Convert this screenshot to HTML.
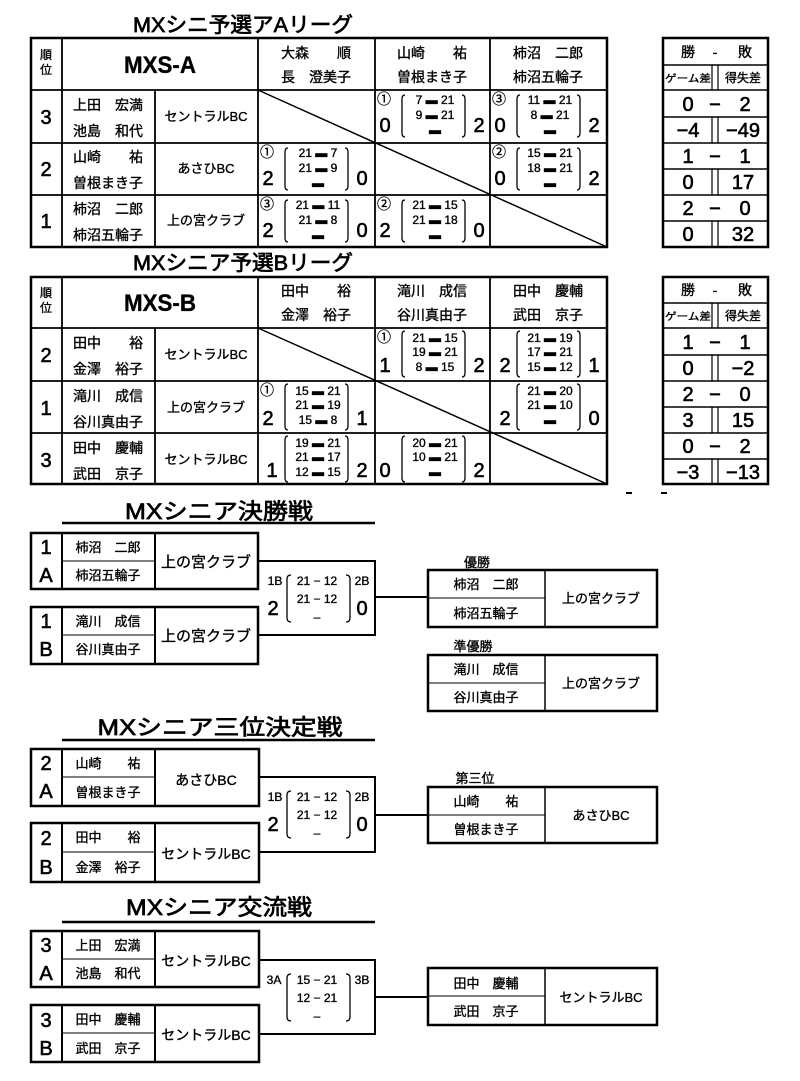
<!DOCTYPE html>
<html><head><meta charset="utf-8"><style>
html,body{margin:0;padding:0;background:#fff}
svg{display:block}
text{font-family:"Liberation Sans","Noto Sans CJK JP",sans-serif;fill:#000;stroke:#000;stroke-width:0.35}
.t{font-size:13px;text-anchor:middle}
.n{font-size:14px;text-anchor:middle}
.big{font-size:20px;text-anchor:middle;stroke-width:0.6}
.s{font-size:12px;text-anchor:middle}
.c{font-size:14px;text-anchor:middle}
.ti{stroke-width:0.7}
</style></head><body>
<svg width="800" height="1081" viewBox="0 0 800 1081" xmlns="http://www.w3.org/2000/svg">
<g fill="none" stroke="#000">
<rect x="31" y="38" width="576" height="209" stroke-width="2.5"/>
<path d="M31 90H607M31 143H607M31 195H607M62 38V247M258 38V247M375 38V247M490 38V247M155 90V247" stroke-width="1.8"/>
<path d="M258 90L607 247" stroke-width="1.5"/>
<rect x="663" y="38" width="105" height="209" stroke-width="2.5"/>
<path d="M663 65H768M663 90H768M663 117H768M663 143H768M663 169H768M663 195H768M663 221H768" stroke-width="1.5"/>
<path d="M712 65V90M718 65V90M712 117V143M718 117V143M712 169V195M718 169V195M712 221V247M718 221V247" stroke-width="1.2"/>
<rect x="31" y="277" width="576" height="207" stroke-width="2.5"/>
<path d="M31 328H607M31 381H607M31 433H607M62 277V484M258 277V484M375 277V484M490 277V484M155 328V484" stroke-width="1.8"/>
<path d="M258 328L607 484" stroke-width="1.5"/>
<rect x="663" y="277" width="105" height="207" stroke-width="2.5"/>
<path d="M663 303H768M663 328H768M663 355H768M663 381H768M663 407H768M663 433H768M663 459H768" stroke-width="1.5"/>
<path d="M712 303V328M718 303V328M712 355V381M718 355V381M712 407V433M718 407V433M712 459V484M718 459V484" stroke-width="1.2"/>
<path d="M626 493H632M661 493H667" stroke-width="2"/>
<path d="M62 523H375" stroke-width="2.5"/>
<rect x="31" y="533" width="227" height="56" stroke-width="2.5"/>
<path d="M62 533V589M155 533V589" stroke-width="2"/><path d="M62 561H155" stroke-width="1"/>
<rect x="31" y="607" width="227" height="57" stroke-width="2.5"/>
<path d="M62 607V664M155 607V664" stroke-width="2"/><path d="M62 635H155" stroke-width="1"/>
<path d="M258 561H375V635H258M375 597H428" stroke-width="2"/>
<rect x="428" y="570" width="229" height="57" stroke-width="2.5"/>
<path d="M545 570V627" stroke-width="1.5"/><path d="M428 598H545" stroke-width="1"/>
<rect x="428" y="655" width="229" height="56" stroke-width="2.5"/>
<path d="M545 655V711" stroke-width="1.5"/><path d="M428 683H545" stroke-width="1"/>
<path d="M62 740H375" stroke-width="2.5"/>
<rect x="31" y="749" width="228" height="57" stroke-width="2.5"/>
<path d="M62 749V806M155 749V806" stroke-width="2"/><path d="M62 777H155" stroke-width="1"/>
<rect x="31" y="823" width="228" height="59" stroke-width="2.5"/>
<path d="M62 823V882M155 823V882" stroke-width="2"/><path d="M62 852H155" stroke-width="1"/>
<path d="M259 777H375V852H259M375 815H428" stroke-width="2"/>
<rect x="428" y="787" width="229" height="56" stroke-width="2.5"/>
<path d="M545 787V843" stroke-width="1.5"/><path d="M428 815H545" stroke-width="1"/>
<path d="M62 922H375" stroke-width="2.5"/>
<rect x="31" y="931" width="228" height="56" stroke-width="2.5"/>
<path d="M62 931V987M155 931V987" stroke-width="2"/><path d="M62 959H155" stroke-width="1"/>
<rect x="31" y="1005" width="228" height="57" stroke-width="2.5"/>
<path d="M62 1005V1062M155 1005V1062" stroke-width="2"/><path d="M62 1033H155" stroke-width="1"/>
<path d="M259 960H375V1034H259M375 997H428" stroke-width="2"/>
<rect x="428" y="968" width="229" height="57" stroke-width="2.5"/>
<path d="M545 968V1025" stroke-width="1.5"/><path d="M428 996H545" stroke-width="1"/>
<g stroke-width="1.3">
<path d="M288 148q-3 0-3 4v34q0 4 3 4M345 148q3 0 3 4v34q0 4-3 4" transform="translate(117,-53)"/>
<path d="M288 148q-3 0-3 4v34q0 4 3 4M345 148q3 0 3 4v34q0 4-3 4" transform="translate(232,-53)"/>
<path d="M288 148q-3 0-3 4v34q0 4 3 4M345 148q3 0 3 4v34q0 4-3 4"/>
<path d="M288 148q-3 0-3 4v34q0 4 3 4M345 148q3 0 3 4v34q0 4-3 4" transform="translate(232,0)"/>
<path d="M288 148q-3 0-3 4v34q0 4 3 4M345 148q3 0 3 4v34q0 4-3 4" transform="translate(0,52)"/>
<path d="M288 148q-3 0-3 4v34q0 4 3 4M345 148q3 0 3 4v34q0 4-3 4" transform="translate(117,52)"/>
<path d="M288 148q-3 0-3 4v38q0 4 3 4M345 148q3 0 3 4v38q0 4-3 4" transform="translate(117,183)"/>
<path d="M288 148q-3 0-3 4v38q0 4 3 4M345 148q3 0 3 4v38q0 4-3 4" transform="translate(232,183)"/>
<path d="M288 148q-3 0-3 4v38q0 4 3 4M345 148q3 0 3 4v38q0 4-3 4" transform="translate(0,236)"/>
<path d="M288 148q-3 0-3 4v38q0 4 3 4M345 148q3 0 3 4v38q0 4-3 4" transform="translate(232,236)"/>
<path d="M288 148q-3 0-3 4v38q0 4 3 4M345 148q3 0 3 4v38q0 4-3 4" transform="translate(0,288)"/>
<path d="M288 148q-3 0-3 4v38q0 4 3 4M345 148q3 0 3 4v38q0 4-3 4" transform="translate(117,288)"/>
<path d="M291 575q-4 0-4 4v39q0 4 4 4M346 575q4 0 4 4v39q0 4-4 4"/>
<path d="M291 791q-4 0-4 4v39q0 4 4 4M346 791q4 0 4 4v39q0 4-4 4"/>
<path d="M291 974q-4 0-4 4v39q0 4 4 4M346 974q4 0 4 4v39q0 4-4 4"/>
</g>
</g>

<text class="ti" x="243" y="32" style="font-size:21px" text-anchor="middle" textLength="220" lengthAdjust="spacingAndGlyphs">MXシニ予選アAリーグ</text>
<text class="ti" x="243" y="270" style="font-size:21px" text-anchor="middle" textLength="220" lengthAdjust="spacingAndGlyphs">MXシニア予選Bリーグ</text>
<text class="ti" x="219" y="519" style="font-size:22px" text-anchor="middle" textLength="188" lengthAdjust="spacingAndGlyphs">MXシニア決勝戦</text>
<text class="ti" x="220" y="735" style="font-size:22px" text-anchor="middle" textLength="245" lengthAdjust="spacingAndGlyphs">MXシニア三位決定戦</text>
<text class="ti" x="219" y="915" style="font-size:22px" text-anchor="middle" textLength="186" lengthAdjust="spacingAndGlyphs">MXシニア交流戦</text>

<text class="s" x="46" y="59">順</text><text class="s" x="46" y="74">位</text>
<text x="160" y="73" style="font-size:24px;font-weight:bold" text-anchor="middle" textLength="72" lengthAdjust="spacingAndGlyphs">MXS-A</text>
<text class="n" x="316" y="58">大森　　順</text><text class="n" x="316" y="82">長　澄美子</text>
<text class="n" x="432" y="58">山崎　　祐</text><text class="n" x="432" y="82">曽根まき子</text>
<text class="n" x="548" y="58">柿沼　二郎</text><text class="n" x="548" y="82">柿沼五輪子</text>
<text class="big" x="46" y="124">3</text>
<text class="n" x="108" y="110">上田　宏満</text><text class="n" x="108" y="136">池島　和代</text>
<text class="t" x="206" y="121">セントラルBC</text>
<text class="big" x="46" y="176">2</text>
<text class="n" x="108" y="162">山崎　　祐</text><text class="n" x="108" y="188">曽根まき子</text>
<text class="t" x="206" y="173">あさひBC</text>
<text class="big" x="46" y="228">1</text>
<text class="n" x="108" y="214">柿沼　二郎</text><text class="n" x="108" y="240">柿沼五輪子</text>
<text class="t" x="206" y="225">上の宮クラブ</text>

<text class="c" x="384" y="104">①</text><text class="big" x="385" y="132">0</text>
<text class="s" x="435" y="104">7 ▬ 21</text><text class="s" x="435" y="119">9 ▬ 21</text><text class="s" x="435" y="134">▬</text>
<text class="big" x="479" y="132">2</text>
<text class="c" x="499" y="104">③</text><text class="big" x="500" y="132">0</text>
<text class="s" x="550" y="104">11 ▬ 21</text><text class="s" x="550" y="119">8 ▬ 21</text><text class="s" x="550" y="134">▬</text>
<text class="big" x="594" y="132">2</text>
<text class="c" x="267" y="157">①</text><text class="big" x="268" y="185">2</text>
<text class="s" x="318" y="157">21 ▬ 7</text><text class="s" x="318" y="172">21 ▬ 9</text><text class="s" x="318" y="187">▬</text>
<text class="big" x="362" y="185">0</text>
<text class="c" x="499" y="157">②</text><text class="big" x="500" y="185">0</text>
<text class="s" x="550" y="157">15 ▬ 21</text><text class="s" x="550" y="172">18 ▬ 21</text><text class="s" x="550" y="187">▬</text>
<text class="big" x="594" y="185">2</text>
<text class="c" x="267" y="209">③</text><text class="big" x="268" y="237">2</text>
<text class="s" x="318" y="209">21 ▬ 11</text><text class="s" x="318" y="224">21 ▬ 8</text><text class="s" x="318" y="239">▬</text>
<text class="big" x="362" y="237">0</text>
<text class="c" x="384" y="209">②</text><text class="big" x="385" y="237">2</text>
<text class="s" x="435" y="209">21 ▬ 15</text><text class="s" x="435" y="224">21 ▬ 18</text><text class="s" x="435" y="239">▬</text>
<text class="big" x="479" y="237">0</text>

<text class="n" x="688" y="57">勝</text><text class="n" x="715" y="57">-</text><text class="n" x="745" y="57">敗</text>
<text x="688" y="82" style="font-size:10px" text-anchor="middle" textLength="46" lengthAdjust="spacingAndGlyphs">ゲーム差</text>
<text class="s" x="743" y="82">得失差</text>
<text class="big" x="688" y="111">0</text><text class="big" x="715" y="111">−</text><text class="big" x="745" y="111">2</text>
<text class="big" x="688" y="137">−4</text><text class="big" x="743" y="137">−49</text>
<text class="big" x="688" y="163">1</text><text class="big" x="715" y="163">−</text><text class="big" x="745" y="163">1</text>
<text class="big" x="688" y="189">0</text><text class="big" x="743" y="189">17</text>
<text class="big" x="688" y="215">2</text><text class="big" x="715" y="215">−</text><text class="big" x="745" y="215">0</text>
<text class="big" x="688" y="241">0</text><text class="big" x="743" y="241">32</text>

<text class="s" x="46" y="297">順</text><text class="s" x="46" y="312">位</text>
<text x="160" y="311" style="font-size:24px;font-weight:bold" text-anchor="middle" textLength="72" lengthAdjust="spacingAndGlyphs">MXS-B</text>
<text class="n" x="316" y="296">田中　　裕</text><text class="n" x="316" y="320">金澤　裕子</text>
<text class="n" x="432" y="296">滝川　成信</text><text class="n" x="432" y="320">谷川真由子</text>
<text class="n" x="548" y="296">田中　慶輔</text><text class="n" x="548" y="320">武田　京子</text>
<text class="big" x="46" y="362">2</text>
<text class="n" x="108" y="348">田中　　裕</text><text class="n" x="108" y="374">金澤　裕子</text>
<text class="t" x="206" y="359">セントラルBC</text>
<text class="big" x="46" y="415">1</text>
<text class="n" x="108" y="401">滝川　成信</text><text class="n" x="108" y="427">谷川真由子</text>
<text class="t" x="206" y="412">上の宮クラブ</text>
<text class="big" x="46" y="467">3</text>
<text class="n" x="108" y="453">田中　慶輔</text><text class="n" x="108" y="479">武田　京子</text>
<text class="t" x="206" y="464">セントラルBC</text>

<text class="c" x="384" y="342">①</text><text class="big" x="385" y="372">1</text>
<text class="s" x="435" y="342">21 ▬ 15</text><text class="s" x="435" y="356">19 ▬ 21</text><text class="s" x="435" y="371">8 ▬ 15</text>
<text class="big" x="479" y="372">2</text>
<text class="big" x="505" y="372">2</text>
<text class="s" x="550" y="342">21 ▬ 19</text><text class="s" x="550" y="356">17 ▬ 21</text><text class="s" x="550" y="371">15 ▬ 12</text>
<text class="big" x="594" y="372">1</text>
<text class="c" x="267" y="395">①</text><text class="big" x="268" y="425">2</text>
<text class="s" x="318" y="395">15 ▬ 21</text><text class="s" x="318" y="409">21 ▬ 19</text><text class="s" x="318" y="424">15 ▬ 8</text>
<text class="big" x="362" y="425">1</text>
<text class="big" x="505" y="425">2</text>
<text class="s" x="550" y="395">21 ▬ 20</text><text class="s" x="550" y="409">21 ▬ 10</text><text class="s" x="550" y="424">▬</text>
<text class="big" x="594" y="425">0</text>
<text class="big" x="272" y="477">1</text>
<text class="s" x="318" y="447">19 ▬ 21</text><text class="s" x="318" y="461">21 ▬ 17</text><text class="s" x="318" y="476">12 ▬ 15</text>
<text class="big" x="362" y="477">2</text>
<text class="big" x="385" y="477">0</text>
<text class="s" x="435" y="447">20 ▬ 21</text><text class="s" x="435" y="461">10 ▬ 21</text><text class="s" x="435" y="476">▬</text>
<text class="big" x="479" y="477">2</text>

<text class="n" x="688" y="295">勝</text><text class="n" x="715" y="295">-</text><text class="n" x="745" y="295">敗</text>
<text x="688" y="320" style="font-size:10px" text-anchor="middle" textLength="46" lengthAdjust="spacingAndGlyphs">ゲーム差</text>
<text class="s" x="743" y="320">得失差</text>
<text class="big" x="688" y="349">1</text><text class="big" x="715" y="349">−</text><text class="big" x="745" y="349">1</text>
<text class="big" x="688" y="375">0</text><text class="big" x="743" y="375">−2</text>
<text class="big" x="688" y="401">2</text><text class="big" x="715" y="401">−</text><text class="big" x="745" y="401">0</text>
<text class="big" x="688" y="427">3</text><text class="big" x="743" y="427">15</text>
<text class="big" x="688" y="453">0</text><text class="big" x="715" y="453">−</text><text class="big" x="745" y="453">2</text>
<text class="big" x="688" y="479">−3</text><text class="big" x="743" y="479">−13</text>

<text class="big" x="46" y="554">1</text><text class="big" x="46" y="582">A</text>
<text class="t" x="108" y="552">柿沼　二郎</text><text class="t" x="108" y="580">柿沼五輪子</text>
<text x="206" y="567" style="font-size:15px" text-anchor="middle">上の宮クラブ</text>
<text class="big" x="46" y="628">1</text><text class="big" x="46" y="656">B</text>
<text class="t" x="108" y="626">滝川　成信</text><text class="t" x="108" y="654">谷川真由子</text>
<text x="206" y="641" style="font-size:15px" text-anchor="middle">上の宮クラブ</text>
<text class="s" x="275" y="585">1B</text><text class="s" x="317" y="585">21 − 12</text><text class="s" x="362" y="585">2B</text>
<text class="s" x="317" y="603">21 − 12</text><text class="s" x="317" y="621">–</text>
<text class="big" x="273" y="615">2</text><text class="big" x="362" y="615">0</text>
<text class="t" x="477" y="567">優勝</text>
<text class="t" x="486" y="589">柿沼　二郎</text><text class="t" x="486" y="618">柿沼五輪子</text>
<text class="t" x="601" y="603">上の宮クラブ</text>
<text class="t" x="473" y="651">準優勝</text>
<text class="t" x="486" y="674">滝川　成信</text><text class="t" x="486" y="702">谷川真由子</text>
<text class="t" x="601" y="688">上の宮クラブ</text>

<text class="big" x="46" y="770">2</text><text class="big" x="46" y="798">A</text>
<text class="t" x="108" y="768">山崎　　祐</text><text class="t" x="108" y="797">曽根まき子</text>
<text x="206" y="785" style="font-size:14px" text-anchor="middle">あさひBC</text>
<text class="big" x="46" y="845">2</text><text class="big" x="46" y="874">B</text>
<text class="t" x="108" y="842">田中　　裕</text><text class="t" x="108" y="872">金澤　裕子</text>
<text x="206" y="859" style="font-size:14px" text-anchor="middle">セントラルBC</text>
<text class="s" x="275" y="801">1B</text><text class="s" x="317" y="801">21 − 12</text><text class="s" x="362" y="801">2B</text>
<text class="s" x="317" y="819">21 − 12</text><text class="s" x="317" y="837">–</text>
<text class="big" x="273" y="831">2</text><text class="big" x="362" y="831">0</text>
<text class="t" x="475" y="783">第三位</text>
<text class="t" x="486" y="806">山崎　　祐</text><text class="t" x="486" y="834">曽根まき子</text>
<text class="t" x="601" y="820">あさひBC</text>

<text class="big" x="46" y="952">3</text><text class="big" x="46" y="980">A</text>
<text class="t" x="108" y="950">上田　宏満</text><text class="t" x="108" y="978">池島　和代</text>
<text x="206" y="966" style="font-size:14px" text-anchor="middle">セントラルBC</text>
<text class="big" x="46" y="1027">3</text><text class="big" x="46" y="1055">B</text>
<text class="t" x="108" y="1024">田中　慶輔</text><text class="t" x="108" y="1053">武田　京子</text>
<text x="206" y="1040" style="font-size:14px" text-anchor="middle">セントラルBC</text>
<text class="s" x="274" y="984">3A</text><text class="s" x="317" y="984">15 − 21</text><text class="s" x="362" y="984">3B</text>
<text class="s" x="317" y="1002">12 − 21</text><text class="s" x="317" y="1020">–</text>
<text class="t" x="486" y="988">田中　慶輔</text><text class="t" x="486" y="1016">武田　京子</text>
<text class="t" x="601" y="1002">セントラルBC</text>
</svg>
</body></html>
